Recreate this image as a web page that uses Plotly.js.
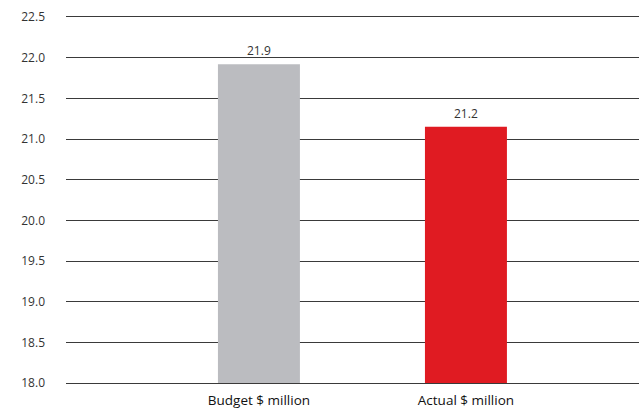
<!DOCTYPE html>
<html>
<head>
<meta charset="utf-8">
<script src="https://cdn.plot.ly/plotly-3.0.1.min.js"></script>
<style>html,body{margin:0;padding:0;background:#fff}#chart{width:639px;height:410px}</style>
</head>
<body>
<div id="chart"></div>
<script>
var categories = ["Budget $ million", "Actual $ million"];
var values = [21.92, 21.15];
var valueLabels = ["21.9", "21.2"];
var barColors = ["#bbbcc0", "#e01b22"];
var yTicks = [18.0, 18.5, 19.0, 19.5, 20.0, 20.5, 21.0, 21.5, 22.0, 22.5];

var trace = {
  type: "bar",
  x: [0, 1],
  y: values,
  width: 0.396,
  marker: {color: barColors},
  hoverinfo: "none"
};
var annotations = values.map(function(v, i){
  return {x: i, y: v, text: valueLabels[i], showarrow: false, xref: "x", yref: "y",
    yanchor: "bottom", yshift: 3, font: {family: "Open Sans, sans-serif", size: 12, color: "#333"}};
});
var layout = {
  width: 639, height: 410,
  margin: {l: 66, r: 0, t: 17, b: 27},
  paper_bgcolor: "#fff", plot_bgcolor: "#fff",
  showlegend: false,
  xaxis: {
    range: [-0.932, 1.836],
    tickvals: [0, 1], ticktext: categories,
    showgrid: false, zeroline: false,
    showline: true, mirror: true, linecolor: "#3a3a3a", linewidth: 1,
    ticks: "",
    ticklabelstandoff: 5,
    tickfont: {family: "Open Sans, sans-serif", size: 13.5, color: "#111", weight: 500}
  },
  yaxis: {
    range: [18, 22.5],
    tickvals: yTicks, ticktext: yTicks.map(function(t){return t.toFixed(1);}),
    showgrid: true, gridcolor: "#3a3a3a", gridwidth: 1,
    zeroline: false, showline: false, ticks: "",
    ticklabelstandoff: 20,
    tickfont: {family: "Open Sans, sans-serif", size: 12, color: "#333"}
  },
  annotations: annotations
};
Plotly.newPlot("chart", [trace], layout, {displayModeBar: false, staticPlot: true});
</script>
</body>
</html>
